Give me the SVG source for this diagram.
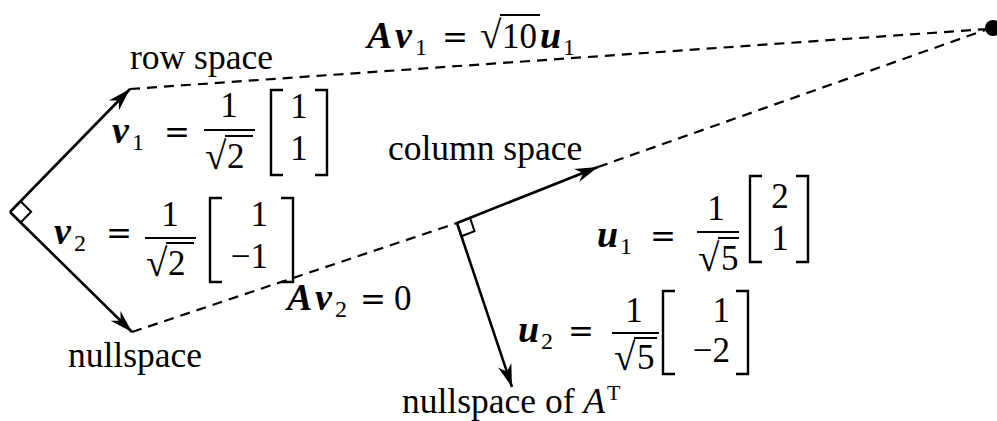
<svg xmlns="http://www.w3.org/2000/svg" width="997" height="421" viewBox="0 0 997 421">
<style>
text { font-family: "Liberation Serif", "Times New Roman", serif; fill: #000; }
.t { font-size: 35.5px; }
.m { font-size: 35px; }
.rad { font-size: 39px; }
.eq { font-family: "DejaVu Serif", "Liberation Serif", serif; font-size: 31px; }
.bi { font-size: 38px; font-weight: bold; font-style: italic; }
.sub { font-size: 24px; }
.c { text-anchor: middle; }
.e { text-anchor: end; }
.arrow { stroke: #000; stroke-width: 2.6; fill: none; marker-end: url(#ah); }
.dash { stroke: #000; stroke-width: 2.2; fill: none; stroke-dasharray: 10 7; }
.ln { stroke: #000; stroke-width: 2; fill: none; }
.br { stroke: #000; stroke-width: 2.4; fill: none; }
</style>
<defs>
<marker id="ah" viewBox="-24 -8 26 16" refX="0" refY="0" markerWidth="26" markerHeight="16" markerUnits="userSpaceOnUse" orient="auto">
<path d="M0,0 L-23,-7 L-16,0 L-23,7 Z" fill="#000"/>
</marker>
</defs>
<rect width="997" height="421" fill="#fff"/>

<g id="connectors">
<line class="dash" x1="130" y1="89" x2="988" y2="29"/>
<line class="dash" x1="132" y1="332" x2="457" y2="223"/>
<line class="dash" x1="598" y1="167" x2="988" y2="29"/>
<line class="arrow" x1="10" y1="212" x2="130" y2="89"/>
<line class="arrow" x1="10" y1="212" x2="132" y2="332"/>
<line class="arrow" x1="457" y1="223" x2="598" y2="167"/>
<line class="arrow" x1="457" y1="223" x2="512" y2="387"/>
<polyline class="ln" points="20.5,201.3 31.1,211.7 20.7,222.5"/>
<polyline class="ln" points="470,217.8 474.5,231.1 461.5,236.3"/>
</g>

<g id="point">
<circle cx="993" cy="28" r="8" fill="#000"/>
</g>

<g id="label-av1">
<text class="bi" x="367" y="48">A</text>
<text class="bi" x="395" y="48">v</text>
<text class="sub" x="415" y="55">1</text>
<text class="eq" x="442" y="48">=</text>
<text class="rad" x="480" y="48">√</text>
<line class="ln" x1="500" y1="15" x2="540" y2="15"/>
<text class="m" x="502" y="48">10</text>
<text class="bi" x="540" y="48">u</text>
<text class="sub" x="563" y="55">1</text>
</g>

<g id="row-space">
<text class="t" x="130" y="69">row space</text>
</g>

<g id="v1">
<text class="bi" x="112" y="143">v</text>
<text class="sub" x="132" y="150">1</text>
<text class="eq" x="164" y="143">=</text>
<text class="m c" x="229" y="117">1</text>
<line class="ln" x1="204" y1="130" x2="255" y2="130"/>
<text class="rad" x="205" y="169">√</text>
<line class="ln" x1="225" y1="136" x2="253" y2="136"/>
<text class="m" x="227" y="168">2</text>
<path class="br" d="M283,90 H271 V175 H283"/>
<path class="br" d="M315,90 H327 V175 H315"/>
<text class="m c" x="299" y="118">1</text>
<text class="m c" x="299" y="160">1</text>
</g>

<g id="v2">
<text class="bi" x="54" y="244">v</text>
<text class="sub" x="74" y="251">2</text>
<text class="eq" x="106" y="244">=</text>
<text class="m c" x="170" y="226">1</text>
<line class="ln" x1="145" y1="238" x2="196" y2="238"/>
<text class="rad" x="146" y="276">√</text>
<line class="ln" x1="166" y1="243" x2="194" y2="243"/>
<text class="m" x="168" y="275">2</text>
<path class="br" d="M222,198 H210 V282 H222"/>
<path class="br" d="M281,198 H293 V282 H281"/>
<text class="m e" x="268" y="226">1</text>
<text class="m e" x="268" y="268">−1</text>
</g>

<g id="nullspace">
<text class="t" x="68" y="367">nullspace</text>
</g>

<g id="column-space">
<text class="t" x="388" y="160">column space</text>
</g>

<g id="u1">
<text class="bi" x="597" y="247">u</text>
<text class="sub" x="620" y="254">1</text>
<text class="eq" x="650" y="247">=</text>
<text class="m c" x="716" y="220">1</text>
<line class="ln" x1="697" y1="232" x2="739" y2="232"/>
<text class="rad" x="698" y="271">√</text>
<line class="ln" x1="718" y1="238" x2="739" y2="238"/>
<text class="m" x="721" y="270">5</text>
<path class="br" d="M762,176 H750 V262 H762"/>
<path class="br" d="M796,176 H808 V262 H796"/>
<text class="m c" x="780" y="208">2</text>
<text class="m c" x="780" y="250">1</text>
</g>

<g id="av2">
<text class="bi" x="287" y="310">A</text>
<text class="bi" x="315" y="310">v</text>
<text class="sub" x="335" y="317">2</text>
<text class="eq" x="360" y="310">=</text>
<text class="m" x="394" y="310">0</text>
</g>

<g id="u2">
<text class="bi" x="518" y="342">u</text>
<text class="sub" x="541" y="349">2</text>
<text class="eq" x="568" y="342">=</text>
<text class="m c" x="634" y="322">1</text>
<line class="ln" x1="612" y1="333" x2="659" y2="333"/>
<text class="rad" x="614" y="370">√</text>
<line class="ln" x1="634" y1="338" x2="657" y2="338"/>
<text class="m" x="637" y="369">5</text>
<path class="br" d="M675,291 H663 V374 H675"/>
<path class="br" d="M736,291 H748 V374 H736"/>
<text class="m e" x="730" y="322">1</text>
<text class="m e" x="730" y="362">−2</text>
</g>

<g id="nullspace-at">
<text class="t" x="402" y="413">nullspace of <tspan font-style="italic">A</tspan><tspan font-size="22" dx="2" dy="-13">T</tspan></text>
</g>
</svg>
